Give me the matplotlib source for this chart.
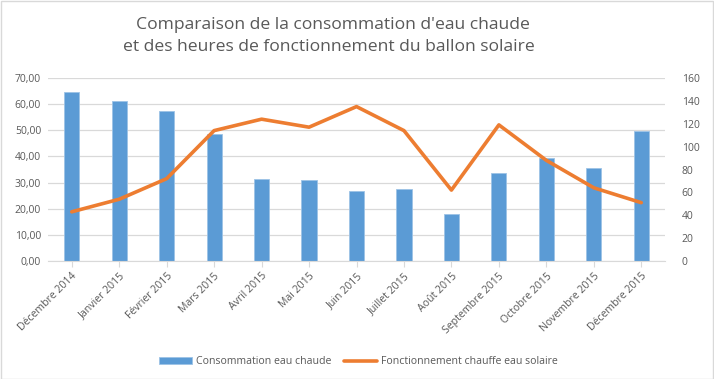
import matplotlib
matplotlib.use("Agg")
import matplotlib.pyplot as plt
from matplotlib.ticker import FuncFormatter, MultipleLocator
from matplotlib.patches import Rectangle

plt.rcParams['font.family'] = ['Open Sans', 'DejaVu Sans']

months = ["Décembre 2014", "Janvier 2015", "Février 2015", "Mars 2015", "Avril 2015",
          "Mai 2015", "Juin 2015", "Juillet 2015", "Août 2015", "Septembre 2015",
          "Octobre 2015", "Novembre 2015", "Décembre 2015"]
consommation = [64.8, 61.3, 57.3, 48.6, 31.4, 31.0, 26.8, 27.4, 17.9, 33.5, 39.4, 35.5, 49.8]
fonctionnement = [43, 54, 72, 114, 124, 117, 135, 114, 62, 119, 88, 64, 51]

grey = "#595959"
blue = "#5B9BD5"
orange = "#ED7D31"

fig = plt.figure(figsize=(7.14, 3.79), dpi=100)
ax = fig.add_axes([48/714, 1-261/379, (665-48)/714, (261-78)/379])
ax2 = ax.twinx()

x = list(range(len(months)))
ax.bar(x, consommation, width=0.32, color=blue, edgecolor="#9DC3E6", linewidth=0.6,
       label="Consommation eau chaude", zorder=2)
ax2.plot(x, fonctionnement, color=orange, linewidth=2.6, solid_capstyle='round',
         label="Fonctionnement chauffe eau solaire", zorder=3)

ax.set_xlim(-0.5, len(months) - 0.5)
ax.set_ylim(0, 70)
ax2.set_ylim(0, 160)
ax.yaxis.set_major_locator(MultipleLocator(10))
ax2.yaxis.set_major_locator(MultipleLocator(20))
ax.yaxis.set_major_formatter(FuncFormatter(lambda v, p: f"{v:.2f}".replace(".", ",")))

ax.grid(axis='y', color="#D9D9D9", linewidth=0.9, zorder=0)
ax.set_axisbelow(True)
for a in (ax, ax2):
    for s in a.spines.values():
        s.set_visible(False)
    a.tick_params(axis='y', length=0, colors=grey, labelsize=7.5)
ax.spines['bottom'].set_visible(True)
ax.spines['bottom'].set_color("#D9D9D9")
ax.tick_params(axis='y', pad=5)
ax2.tick_params(axis='y', pad=12)
ax.set_xticks(x)
ax.set_xticklabels(months, rotation=45, ha='right', rotation_mode='anchor',
                   fontsize=7.6, color=grey)
ax.tick_params(axis='x', length=4, color="#D9D9D9", pad=3)

fig.text(333/714, 1-25/379, "Comparaison de la consommation d'eau chaude",
         ha='center', va='center', fontsize=12.6, color=grey)
fig.text(329/714, 1-47/379, "et des heures de fonctionnement du ballon solaire",
         ha='center', va='center', fontsize=12.6, color=grey)

h1, l1 = ax.get_legend_handles_labels()
h2, l2 = ax2.get_legend_handles_labels()
fig.legend(h1 + h2, l1 + l2, loc='center', bbox_to_anchor=(358/714, 1-362/379),
           ncol=2, frameon=False, fontsize=7.6, labelcolor=grey,
           handlelength=3.2, handleheight=0.6, columnspacing=1.2, handletextpad=0.3)

fig.add_artist(Rectangle((0.001, 0.001), 0.997, 0.997, transform=fig.transFigure,
                         fill=False, edgecolor="#D9D9D9", linewidth=1))

fig.savefig("out.png", dpi=100, facecolor="white")
